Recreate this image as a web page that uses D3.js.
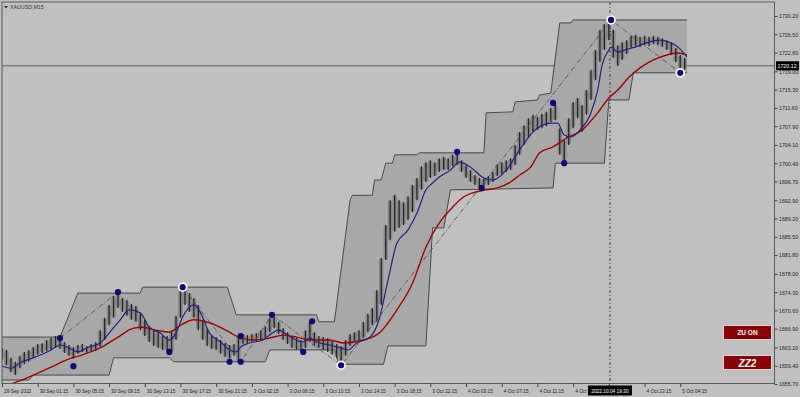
<!DOCTYPE html>
<html><head><meta charset="utf-8">
<script src="https://cdn.jsdelivr.net/npm/d3@7"></script>
<style>html,body{margin:0;padding:0;background:#c0c0c0;overflow:hidden}svg{display:block}</style>
</head><body><svg id="c" width="800" height="397"></svg>
<script>
// ---------------- data ----------------
const symbolTitle = "XAUUSD,M15";
const timeLabels = ["29 Sep 2022","30 Sep 01:15","30 Sep 05:15","30 Sep 09:15","30 Sep 13:15","30 Sep 17:15","30 Sep 21:15","3 Oct 02:15","3 Oct 06:15","3 Oct 10:15","3 Oct 14:15","3 Oct 18:15","3 Oct 22:15","4 Oct 03:15","4 Oct 07:15","4 Oct 11:15","4 Oct 15:15","4 Oct 19:15","4 Oct 23:15","5 Oct 04:15"];
const barsPerLabel = 16;
const priceTicks = [1730.20,1726.50,1722.80,1719.00,1715.30,1711.60,1707.90,1704.10,1700.40,1696.70,1692.90,1689.20,1685.50,1681.80,1678.00,1674.30,1670.60,1666.90,1663.10,1659.40,1655.70];
const priceMin = 1655.70, priceMax = 1730.20;
const barsPerEntry = 2;
const highs = [1663.0,1662.6,1661.0,1660.2,1661.4,1662.2,1662.6,1663.2,1663.8,1664.0,
 1664.6,1665.0,1665.4,1665.2,1664.2,1663.6,1663.2,1663.6,1663.8,1663.4,
 1663.8,1664.2,1666.6,1669.1,1671.7,1673.5,1674.3,1673.1,1672.7,1671.9,
 1671.5,1669.9,1668.7,1667.4,1666.6,1666.2,1665.6,1665.4,1666.6,1669.5,
 1674.7,1675.3,1674.1,1673.1,1671.7,1668.7,1667.0,1665.6,1665.2,1664.6,
 1664.0,1663.6,1663.8,1665.4,1665.8,1665.6,1665.8,1666.0,1666.6,1667.4,
 1669.1,1669.5,1668.3,1667.0,1666.2,1665.4,1665.0,1664.6,1666.6,1668.3,
 1666.2,1665.4,1665.2,1665.0,1664.6,1663.8,1663.4,1664.6,1665.8,1666.2,
 1666.6,1668.3,1669.9,1671.1,1674.7,1681.2,1687.9,1692.9,1694.0,1692.9,
 1692.5,1693.7,1696.0,1697.4,1699.8,1700.6,1701.0,1700.6,1701.4,1701.7,
 1701.4,1702.1,1702.7,1701.0,1700.0,1699.0,1698.0,1697.4,1697.4,1697.8,
 1698.6,1700.2,1700.6,1701.0,1701.4,1704.1,1706.7,1708.1,1709.5,1710.2,
 1709.8,1710.4,1710.8,1711.6,1712.4,1707.5,1705.1,1709.5,1712.8,1713.6,
 1712.2,1715.2,1719.3,1723.3,1727.4,1728.6,1729.4,1727.4,1724.3,1724.9,
 1725.3,1726.2,1726.4,1726.0,1726.2,1726.0,1726.2,1726.0,1725.7,1725.3,
 1724.9,1723.7,1722.3,1721.7];
const lows = [1660.6,1659.5,1658.1,1657.5,1658.9,1659.7,1660.2,1661.0,1661.6,1662.0,
 1662.4,1662.6,1663.0,1662.8,1662.0,1661.4,1660.8,1661.8,1662.2,1662.0,
 1662.2,1662.4,1663.2,1664.6,1667.6,1669.1,1671.1,1670.3,1669.5,1668.7,
 1668.3,1666.6,1665.4,1664.2,1663.4,1663.0,1662.6,1662.4,1662.2,1664.6,
 1669.1,1671.7,1670.3,1669.1,1666.6,1664.6,1663.4,1662.8,1662.6,1661.8,
 1661.2,1660.8,1661.4,1660.2,1663.8,1664.0,1664.2,1664.4,1664.6,1665.0,
 1666.2,1667.0,1665.8,1664.6,1663.8,1663.0,1662.6,1662.2,1663.0,1664.2,
 1663.4,1663.0,1662.6,1662.2,1661.6,1661.0,1659.7,1661.4,1663.4,1664.2,
 1664.4,1665.0,1666.2,1667.6,1668.3,1671.7,1680.8,1684.8,1686.5,1687.3,
 1687.9,1688.9,1690.5,1692.9,1695.0,1696.6,1697.4,1697.8,1698.6,1699.0,
 1699.0,1699.8,1700.0,1698.6,1697.4,1696.6,1696.0,1695.4,1695.8,1696.0,
 1696.6,1697.8,1698.2,1698.6,1699.0,1700.0,1702.1,1704.1,1705.5,1706.7,
 1707.1,1707.5,1707.9,1708.7,1709.1,1702.1,1700.6,1704.1,1707.5,1709.5,
 1706.7,1710.2,1713.2,1717.2,1720.9,1723.3,1725.3,1721.7,1720.1,1721.3,
 1722.5,1723.7,1724.1,1723.9,1724.3,1724.1,1724.5,1724.3,1723.9,1723.3,
 1722.3,1720.9,1718.9,1719.3];
// [bar index, price]
const fastMA = [[0,1659.3],[4,1658.9],[8,1660.0],[14,1661.0],[22,1662.6],[26,1663.6],[30,1663.0],[34,1662.2],[38,1663.0],[44,1664.0],[48,1666.0],[53,1668.7],[57,1670.7],[62,1670.1],[66,1667.2],[71,1666.0],[75,1664.6],[78,1666.0],[81,1669.3],[86,1671.7],[89,1670.1],[93,1666.0],[98,1664.2],[102,1662.6],[105,1662.2],[107,1663.2],[111,1664.0],[117,1664.6],[121,1666.0],[124,1666.6],[128,1665.6],[132,1664.6],[135,1664.2],[138,1665.0],[141,1664.2],[147,1663.6],[152,1663.0],[155,1662.6],[159,1664.0],[165,1665.2],[169,1668.7],[173,1676.7],[177,1684.2],[182,1686.9],[186,1690.3],[190,1695.0],[193,1696.4],[196,1697.6],[201,1699.0],[205,1700.6],[210,1699.6],[216,1697.4],[220,1697.0],[226,1699.0],[232,1703.1],[238,1706.7],[246,1708.5],[249,1708.5],[252,1706.1],[255,1705.7],[259,1707.1],[264,1710.6],[267,1715.2],[269,1720.3],[272,1723.3],[273,1723.9],[276,1722.9],[279,1723.3],[285,1724.1],[290,1724.9],[295,1725.3],[299,1724.9],[303,1723.9],[307,1721.9]];
const slowMA = [[0,1655.1],[11,1656.9],[22,1659.1],[29,1660.6],[36,1661.6],[44,1663.0],[52,1665.2],[59,1667.0],[63,1667.2],[69,1666.6],[75,1666.2],[80,1667.6],[86,1668.7],[93,1668.1],[102,1666.2],[107,1665.0],[114,1664.6],[120,1665.0],[126,1665.6],[132,1665.2],[138,1664.6],[147,1664.6],[153,1664.0],[162,1664.6],[169,1666.0],[177,1670.7],[184,1676.1],[190,1683.4],[196,1688.3],[202,1691.5],[207,1693.6],[211,1694.4],[217,1695.0],[222,1695.4],[228,1696.6],[232,1698.0],[237,1699.6],[241,1702.5],[247,1703.7],[253,1705.5],[260,1707.1],[267,1710.6],[272,1713.6],[276,1715.2],[281,1717.8],[286,1719.7],[292,1721.3],[298,1722.3],[303,1722.7],[307,1722.3]];
const chanUpper = [[0,1665.2],[26,1665.2],[34,1674.1],[62,1674.1],[63,1675.3],[101,1675.3],[105,1669.7],[141,1669.7],[142,1668.3],[149,1668.3],[156,1692.9],[157,1693.9],[166,1693.9],[167,1697.0],[170,1697.0],[172,1700.4],[175,1700.4],[176,1702.1],[186,1702.1],[187,1702.5],[216,1702.5],[217,1710.6],[229,1710.8],[230,1712.8],[240,1713.2],[241,1714.2],[246,1714.6],[250,1728.8],[255,1728.8],[256,1729.4],[307,1729.4]];
const chanLower = [[0,1656.5],[12,1656.5],[14,1657.5],[48,1657.5],[50,1661.0],[75,1661.0],[77,1660.2],[118,1660.2],[120,1662.6],[149,1662.6],[151,1659.7],[171,1659.7],[173,1663.4],[190,1663.4],[193,1687.3],[198,1687.3],[201,1695.0],[247,1695.4],[248,1700.4],[270,1700.4],[272,1713.2],[281,1713.2],[283,1718.7],[307,1718.7]];
// [bar index, price, major]
const pivots = [[26,1665.0,0],[32,1659.3,0],[52,1674.3,0],[75,1662.2,0],[81,1675.3,1],[102,1660.2,0],[107,1665.4,0],[107,1660.2,0],[121,1669.7,0],[135,1662.2,0],[139,1668.4,0],[152,1659.5,1],[204,1702.7,0],[215,1695.4,0],[247,1712.6,0],[252,1700.4,0],[273,1729.4,1],[304,1718.7,1]];
const zigzagA = [[26,1665.0],[52,1674.3]];
const zigzagB = [[81,1675.3],[107,1660.2],[121,1669.7],[152,1659.5],[273,1729.4],[304,1718.7]];
const lastPrice = 1720.12;
const crossIdx = 272.5, crossLabel = "2022.10.04 19:30";
const buttonLabels = ["ZU ON","ZZ2"];

// ---------------- drawing ----------------
const W = 800, H = 397, L = 2, T = 2, R = 774.5, B = 383.5;
const FONT = "Liberation Sans, Arial, sans-serif";
const svg = d3.select("#c");
const x = d3.scaleLinear().domain([0, 304]).range([2, 2 + 304 * 2.231]);
const y = d3.scaleLinear().domain([priceMin, priceMax]).range([384, 16]);

function squeeze(sel, f) {
  sel.each(function () {
    const w = this.getComputedTextLength();
    d3.select(this).attr("textLength", (w * f).toFixed(2)).attr("lengthAdjust", "spacingAndGlyphs");
  });
}

svg.append("rect").attr("width", W).attr("height", H).attr("fill", "#c0c0c0");
svg.append("defs").append("clipPath").attr("id", "plot")
  .append("rect").attr("x", L).attr("y", T).attr("width", R - L).attr("height", B - T);
const g = svg.append("g").attr("clip-path", "url(#plot)");

// last price line (behind band)
g.append("line").attr("x1", L).attr("x2", R).attr("y1", y(lastPrice)).attr("y2", y(lastPrice))
  .attr("stroke", "#5a5a5a").attr("stroke-width", 1);

// channel band
const ln = d3.line().x(d => x(d[0])).y(d => y(d[1]));
g.append("path").attr("d", ln(chanUpper.concat(chanLower.slice().reverse())) + "Z")
  .attr("fill", "#a8a8a8").attr("stroke", "none");
[chanUpper, chanLower].forEach(c => g.append("path").attr("d", ln(c))
  .attr("fill", "none").attr("stroke", "#3c3c3c").attr("stroke-width", 0.9));

// bars: soft body for the dense cluster look, then the thin high-low stroke
const step = x(barsPerEntry) - x(0);
g.selectAll("rect.barbg").data(highs).join("rect").attr("class", "barbg")
  .attr("x", (d, k) => x(k * barsPerEntry) - step / 2).attr("width", step)
  .attr("y", d => y(d) + 1).attr("height", (d, k) => Math.max(0, y(lows[k]) - y(d) - 2))
  .attr("fill", "#707070").attr("opacity", 0.55);
g.selectAll("line.bar").data(highs).join("line").attr("class", "bar")
  .attr("x1", (d, k) => x(k * barsPerEntry)).attr("x2", (d, k) => x(k * barsPerEntry))
  .attr("y1", d => y(d)).attr("y2", (d, k) => y(lows[k]))
  .attr("stroke", "#262626").attr("stroke-width", 1.3);

// zigzag
[zigzagA, zigzagB].forEach(z => g.append("path").attr("d", ln(z))
  .attr("fill", "none").attr("stroke", "#505050").attr("stroke-width", 0.9)
  .attr("stroke-dasharray", "5,2,1,2"));

// moving averages
const cl = d3.line().x(d => x(d[0])).y(d => y(d[1])).curve(d3.curveMonotoneX);
g.append("path").attr("d", cl(slowMA)).attr("fill", "none").attr("stroke", "#a80000").attr("stroke-width", 1.4);
g.append("path").attr("d", cl(fastMA)).attr("fill", "none").attr("stroke", "#20208c").attr("stroke-width", 1.2);

// crosshair
g.append("line").attr("x1", x(crossIdx)).attr("x2", x(crossIdx)).attr("y1", T).attr("y2", B)
  .attr("stroke", "#303030").attr("stroke-width", 0.9).attr("stroke-dasharray", "3,2,1,2");

// pivots
g.selectAll("circle.ring").data(pivots.filter(p => p[2])).join("circle").attr("class", "ring")
  .attr("cx", d => x(d[0])).attr("cy", d => y(d[1])).attr("r", 4.8).attr("fill", "#ffffff");
g.selectAll("circle.piv").data(pivots).join("circle").attr("class", "piv")
  .attr("cx", d => x(d[0])).attr("cy", d => y(d[1])).attr("r", 3.1).attr("fill", "#0a0a78");

// frame
svg.append("rect").attr("x", L).attr("y", T).attr("width", R - L).attr("height", B - T)
  .attr("fill", "none").attr("stroke", "#5a5a5a").attr("stroke-width", 1);

// right axis
const ya = svg.append("g").attr("transform", `translate(${R},0)`)
  .call(d3.axisRight(y).tickValues(priceTicks).tickFormat(d3.format(".2f")).tickSize(3).tickPadding(1.5));
ya.select(".domain").remove();
ya.selectAll("line").attr("stroke", "#404040");
ya.selectAll("text").attr("font-family", FONT).attr("font-size", 6).attr("fill", "#202030");
squeeze(ya.selectAll("text"), 0.88);

// bottom axis (the label under the crosshair box is hidden, as in the terminal)
const crossTickIdx = Math.round(crossIdx / barsPerLabel);
const xa = svg.append("g").attr("transform", `translate(0,${B})`)
  .call(d3.axisBottom(x).tickValues(timeLabels.map((_, i) => i * barsPerLabel))
    .tickFormat((d, i) => i === crossTickIdx ? "" : timeLabels[i]).tickSize(3.5));
xa.select(".domain").remove();
xa.selectAll("line").attr("stroke", "#404040");
xa.selectAll("text").attr("font-family", FONT).attr("font-size", 6).attr("fill", "#202030")
  .attr("text-anchor", "start").attr("x", 1.5).attr("y", 9.5).attr("dy", 0);
squeeze(xa.selectAll("text").filter((d, i) => i !== crossTickIdx), 0.8);

// last price label
const lpY = y(lastPrice);
svg.append("rect").attr("x", R + 1.5).attr("y", lpY - 4.5).attr("width", 23).attr("height", 9).attr("fill", "#000");
const lpT = svg.append("text").attr("x", R + 3).attr("y", lpY + 2.2).attr("font-family", FONT).attr("font-size", 6)
  .attr("fill", "#fff").text(lastPrice.toFixed(2));
squeeze(lpT, 0.88);

// crosshair time label
const cx = x(crossIdx);
svg.append("rect").attr("x", cx - 22).attr("y", 385.5).attr("width", 44).attr("height", 10).attr("fill", "#000");
const ct = svg.append("text").attr("x", cx).attr("y", 392.8).attr("text-anchor", "middle").attr("font-family", FONT)
  .attr("font-size", 6).attr("fill", "#fff").text(crossLabel);
squeeze(ct, 0.8);

// title
svg.append("path").attr("d", "M4,6 L8,6 L6,8.5 Z").attr("fill", "#202020");
const tt = svg.append("text").attr("x", 10).attr("y", 9).attr("font-family", FONT).attr("font-size", 6)
  .attr("fill", "#303030").text(symbolTitle);
squeeze(tt, 0.88);

// buttons
const btnY = [325, 355];
buttonLabels.forEach((t, i) => {
  svg.append("rect").attr("x", 723.5).attr("y", btnY[i] + 0.5).attr("width", 48).attr("height", 14)
    .attr("fill", "#8b0000").attr("stroke", "#d8d8d8").attr("stroke-width", 1);
  svg.append("text").attr("x", 747.5).attr("y", btnY[i] + (i === 0 ? 10 : 11.5)).attr("text-anchor", "middle")
    .attr("font-family", FONT).attr("font-weight", "bold").attr("font-style", i === 1 ? "italic" : "normal")
    .attr("font-size", i === 0 ? 6.5 : 10).attr("fill", "#fff").text(t);
});
</script></body></html>
